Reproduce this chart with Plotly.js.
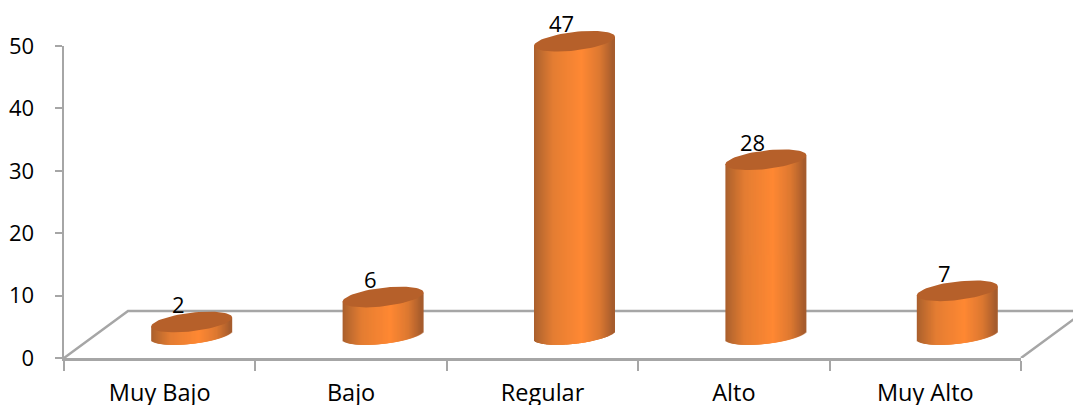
<!DOCTYPE html>
<html>
<head>
<meta charset="utf-8">
<script src="https://cdn.plot.ly/plotly-3.0.1.min.js"></script>
<style>html,body{margin:0;padding:0;background:#fff;overflow:hidden}</style>
</head>
<body>
<div id="chart" style="width:1073px;height:405px"></div>
<script>
// Survey levels and their counts
const categories = ["Muy Bajo", "Bajo", "Regular", "Alto", "Muy Alto"];
const counts = [2, 6, 47, 28, 7];
const yTicks = [0, 10, 20, 30, 40, 50];

// Page geometry (px)
const plotW = 1009, plotH = 348, marginL = 64, marginT = 10;
const frontW = 957, frontH = 312;
const depthX = 64, depthY = 47;          // floor depth in the oblique projection
const pxPerCat = frontW / categories.length;
const pxPerUnit = frontH / 50;
const belowZero = 2;                     // room under zero for the rounded cylinder bottoms

// Cylinder shape (px)
const radiusX = 40.5, radiusY = 9.3, shear = 4.5, stripW = 3;

const axisGrey = "#A6A6A6";
const axisW = 2.5;
const capColor = "#B6602A";
const shadeStops = [[0, "#A55C2C"], [0.05, "#B4652E"], [0.25, "#E47D32"], [0.6, "#FF8833"], [0.82, "#DC7831"], [0.94, "#B5642E"], [1, "#A0582C"]];
const fontFamily = "'Open Sans', sans-serif";

function shade(f) {
  for (let i = 1; i < shadeStops.length; i++) {
    if (f <= shadeStops[i][0]) {
      const [f0, c0] = shadeStops[i - 1], [f1, c1] = shadeStops[i];
      const t = (f - f0) / (f1 - f0);
      const ch = k => Math.round(parseInt(c0.substr(k, 2), 16) * (1 - t) + parseInt(c1.substr(k, 2), 16) * t);
      return `rgb(${ch(1)},${ch(3)},${ch(5)})`;
    }
  }
  return shadeStops[shadeStops.length - 1][1];
}

// Cylinder walls: overlapping thin bars painted left to right, shaded across the width
const wallX = [], wallBase = [], wallY = [], wallColor = [];
counts.forEach((v, i) => {
  for (let dx = -radiusX + stripW / 2; dx <= radiusX - stripW / 2; dx += 1) {
    const c = dx / radiusX, s = Math.sqrt(Math.max(0, 1 - c * c));
    const base = -(radiusY * s - shear * c) / pxPerUnit;
    const top = v + shear * c / pxPerUnit;
    wallX.push(i + dx / pxPerCat);
    wallBase.push(base);
    wallY.push(top - base);
    wallColor.push(shade((dx + radiusX) / (2 * radiusX)));
  }
});

// Cylinder caps: sheared ellipses centred on each value
const capX = [], capY = [];
counts.forEach((v, i) => {
  for (let a = 0; a <= 72; a++) {
    const t = a / 72 * 2 * Math.PI, c = Math.cos(t), s = Math.sin(t);
    capX.push(i + radiusX * c / pxPerCat);
    capY.push(v + (shear * c + radiusY * s) / pxPerUnit);
  }
  capX.push(null); capY.push(null);
});

const traces = [
  // Holds the category axis on the front plane
  { type: "scatter", mode: "markers", x: categories, y: counts, xaxis: "x", yaxis: "y",
    marker: { size: 1, opacity: 0 }, hoverinfo: "skip", showlegend: false },
  // Floor outline behind the cylinders
  { type: "scatter", mode: "lines", xaxis: "x2", yaxis: "y2", hoverinfo: "skip", showlegend: false,
    x: [-0.5, -0.5 + depthX / pxPerCat, 4.5 + depthX / pxPerCat, 4.5],
    y: [0, depthY / pxPerUnit, depthY / pxPerUnit, 0],
    line: { color: axisGrey, width: axisW } },
  { type: "bar", xaxis: "x3", yaxis: "y3", x: wallX, y: wallY, base: wallBase,
    width: stripW / pxPerCat, marker: { color: wallColor, opacity: 1, line: { width: 0 } },
    cliponaxis: false, hoverinfo: "skip", showlegend: false },
  { type: "scatter", mode: "lines", xaxis: "x3", yaxis: "y3", x: capX, y: capY,
    fill: "toself", fillcolor: capColor, line: { width: 0, color: capColor },
    cliponaxis: false, hoverinfo: "skip", showlegend: false }
];

const font = { family: fontFamily, size: 22, color: "#000" };
const catFont = { family: fontFamily, size: 23.5, color: "#000" };

const layout = {
  width: 1073, height: 405,
  margin: { l: marginL, r: 0, t: marginT, b: 47, pad: 0 },
  paper_bgcolor: "#fff", plot_bgcolor: "rgba(0,0,0,0)",
  showlegend: false, barmode: "overlay",
  font: font,
  xaxis: { domain: [0, frontW / plotW], anchor: "y", type: "category", categoryorder: "array", categoryarray: categories,
    range: [-0.5, 4.5], tickson: "boundaries", ticks: "outside", ticklen: 10, tickwidth: 2, tickcolor: axisGrey,
    showline: true, linecolor: axisGrey, linewidth: axisW, showgrid: false, zeroline: false,
    ticklabelstandoff: 12, tickfont: catFont },
  yaxis: { domain: [0, frontH / plotH], anchor: "x", range: [0, 50], tickmode: "array", tickvals: yTicks,
    ticks: "outside", ticklen: 7, tickwidth: 2, tickcolor: axisGrey,
    showline: true, linecolor: axisGrey, linewidth: axisW, showgrid: false, zeroline: false,
    ticklabelstandoff: 16, tickfont: font },
  xaxis2: { domain: [0, 1], anchor: "y2", range: [-0.5, -0.5 + plotW / pxPerCat], visible: false, fixedrange: true },
  yaxis2: { domain: [0, 1], anchor: "x2", range: [0, plotH / pxPerUnit], visible: false, fixedrange: true },
  xaxis3: { domain: [depthX / 2 / plotW, (frontW + depthX / 2) / plotW], anchor: "y3", range: [-0.5, 4.5], visible: false, fixedrange: true },
  yaxis3: { domain: [(depthY / 2 - belowZero * pxPerUnit) / plotH, (frontH + depthY / 2) / plotH], anchor: "x3", range: [-belowZero, 50], visible: false, fixedrange: true },
  // Value labels above each cap
  annotations: counts.map((v, i) => ({
    xref: "x3", yref: "y3", x: i, y: v, text: String(v), showarrow: false,
    xshift: -13, yshift: 18, xanchor: "center", yanchor: "middle", font: font
  }))
};

Plotly.newPlot("chart", traces, layout, { displayModeBar: false, staticPlot: true });
</script>
</body>
</html>
